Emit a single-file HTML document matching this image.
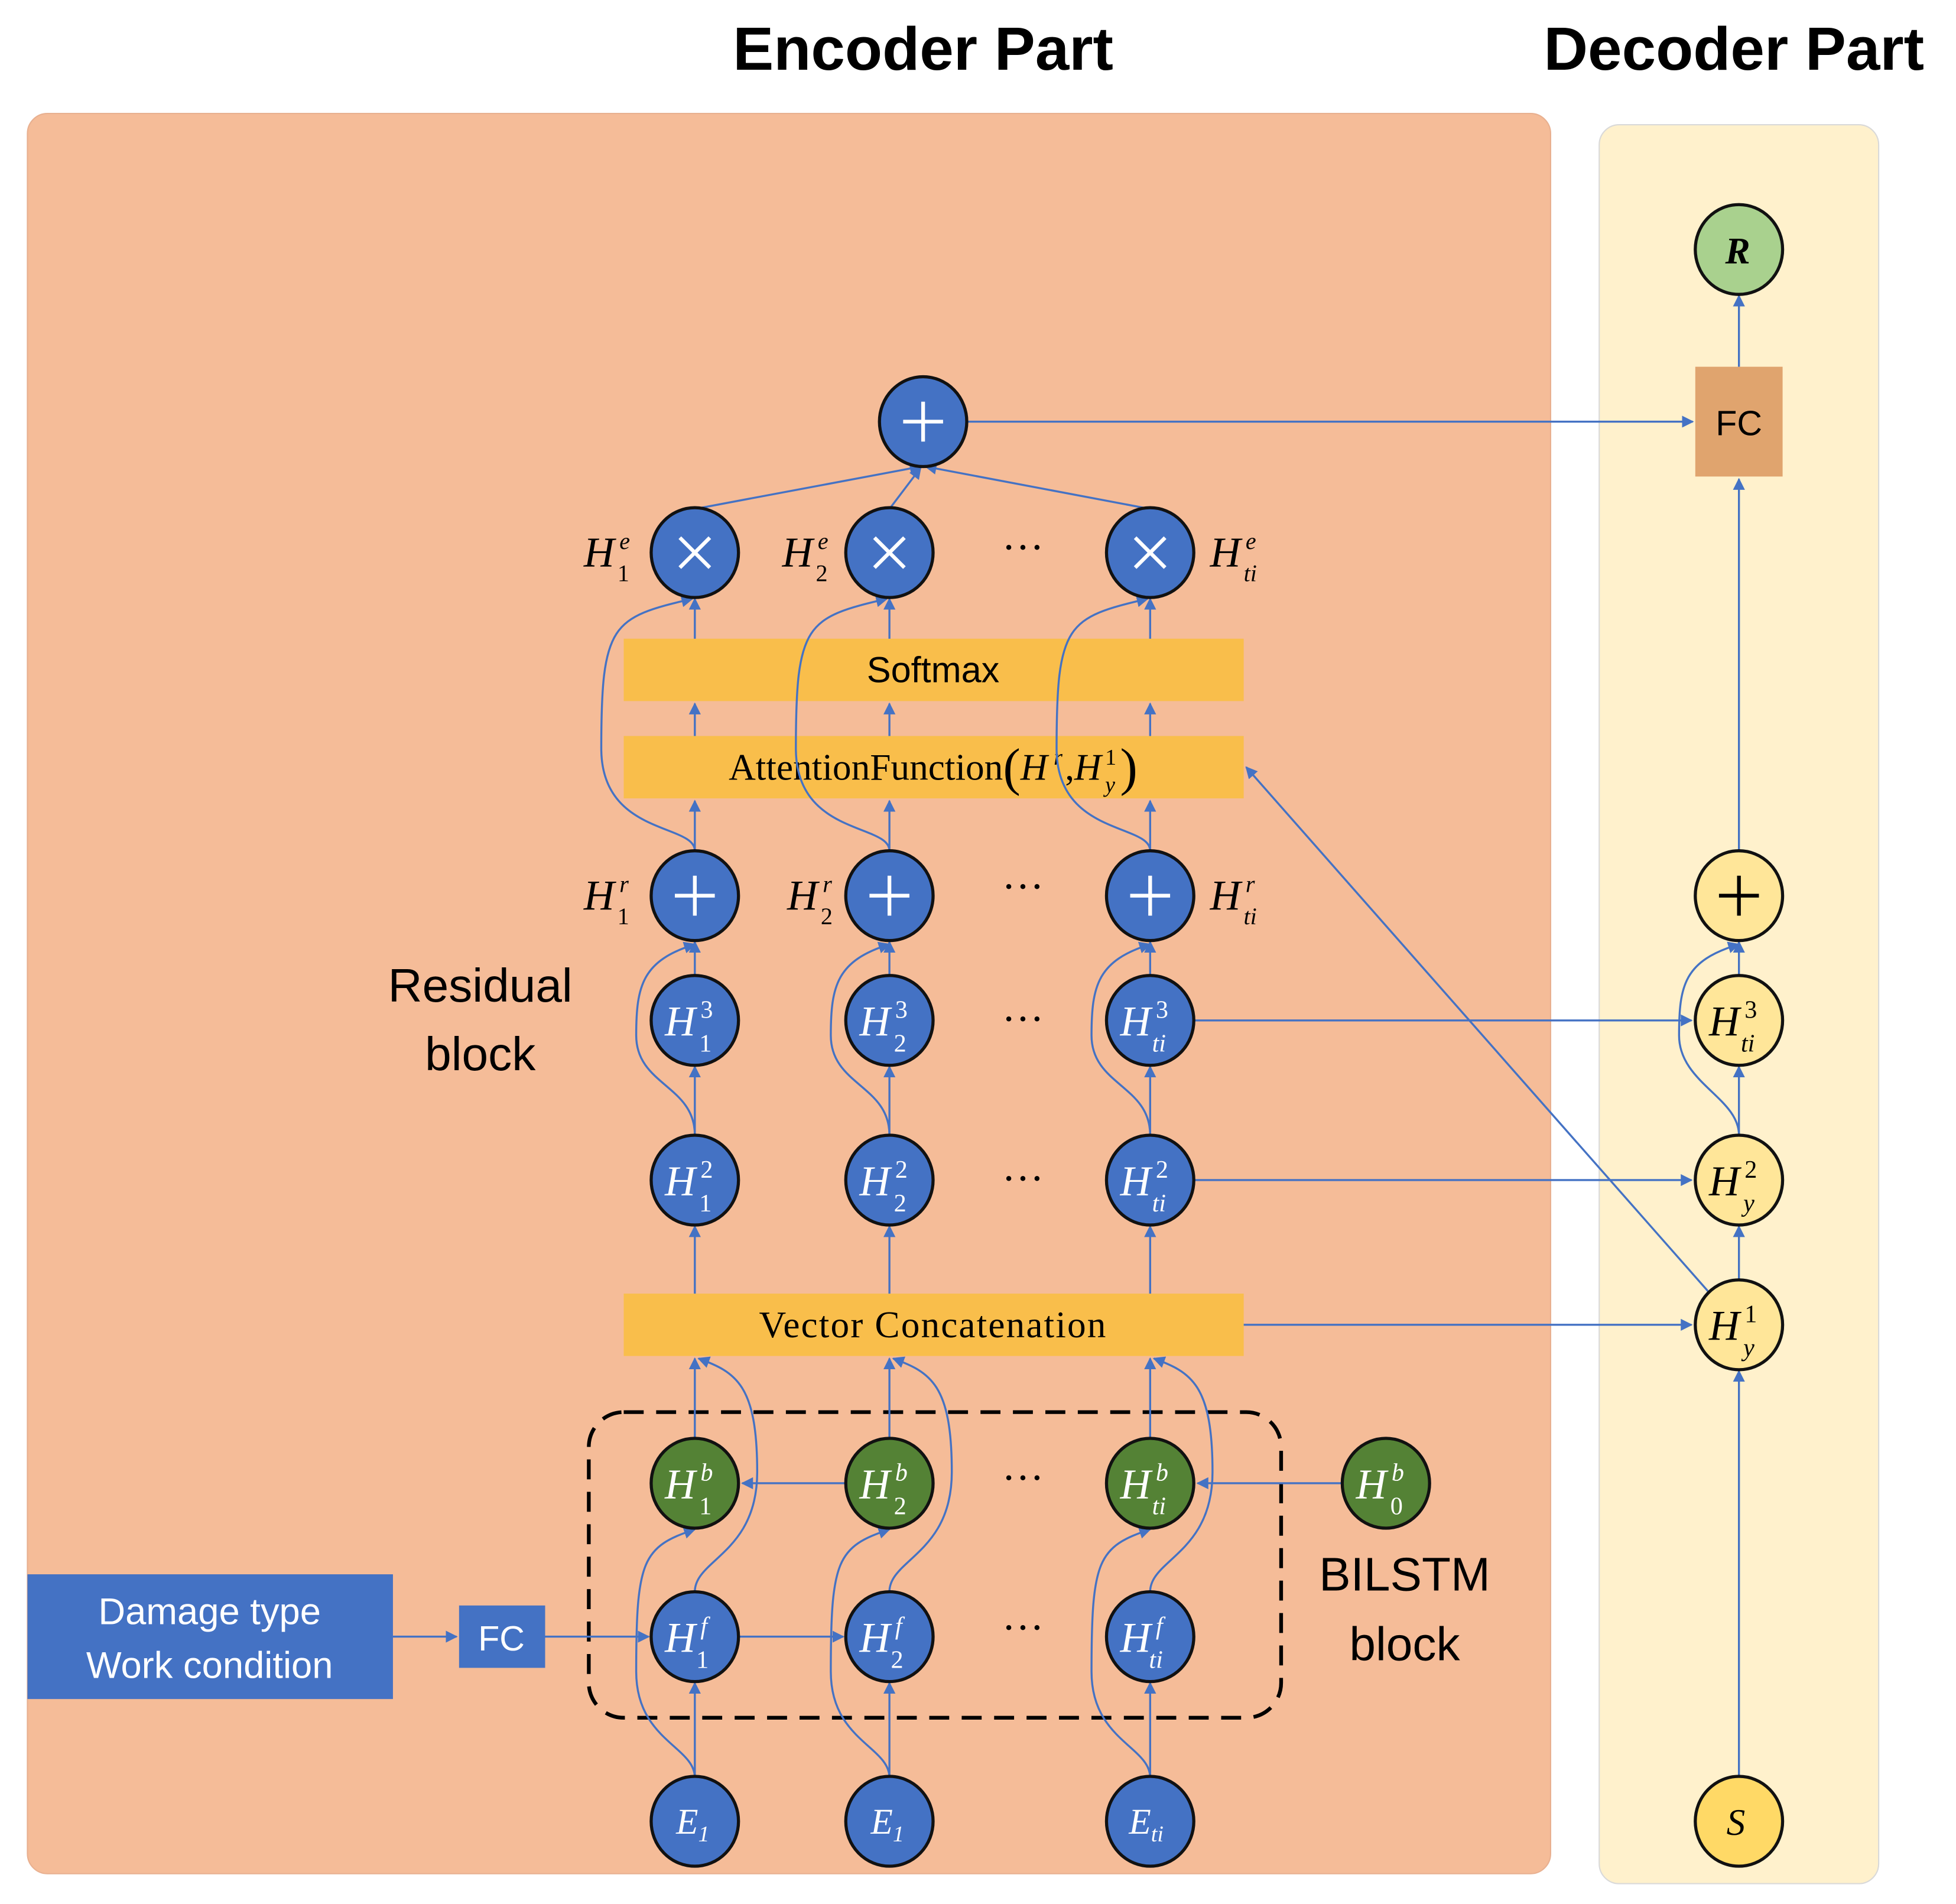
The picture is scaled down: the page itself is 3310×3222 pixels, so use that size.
<!DOCTYPE html>
<html><head><meta charset="utf-8"><style>html,body{margin:0;padding:0;background:#fff}svg{display:block}</style></head>
<body>
<svg width="3310" height="3222" viewBox="0 0 1568 1526.3" preserveAspectRatio="none" xmlns="http://www.w3.org/2000/svg">
<defs>
<marker id="a" viewBox="0 0 10 10" refX="9" refY="5" markerWidth="6" markerHeight="6" orient="auto-start-reverse"><path d="M0,0L10,5L0,10z" fill="#4472C4"/></marker>
</defs>
<rect width="1568" height="1527" fill="#fff"/>
<text x="740" y="56" text-anchor="middle" font-family="Liberation Sans, sans-serif" font-weight="bold" font-size="49">Encoder Part</text>
<text x="1390" y="56" text-anchor="middle" font-family="Liberation Sans, sans-serif" font-weight="bold" font-size="49">Decoder Part</text>
<rect x="22" y="91" width="1221" height="1411" rx="16" fill="#F5BC98" stroke="#e8b090"/>
<rect x="1282" y="100" width="224" height="1410" rx="16" fill="#FFF1CC" stroke="#d9d9d9"/>

<rect x="500" y="512" width="497" height="50" fill="#F9BE4B"/>
<rect x="500" y="590" width="497" height="50" fill="#F9BE4B"/>
<rect x="500" y="1037" width="497" height="50" fill="#F9BE4B"/>
<g font-family="Liberation Serif, serif" font-size="30" text-anchor="middle">
<text x="748" y="547" font-family="Liberation Sans, sans-serif" font-size="29">Softmax</text>
<text x="748" y="625">AttentionFunction<tspan font-size="42" dy="4">(</tspan><tspan font-style="italic" dy="-4">H</tspan><tspan font-size="18" dx="5" dy="-12" font-style="italic">r</tspan><tspan dx="2" dy="12">,</tspan><tspan font-style="italic">H</tspan><tspan font-size="18" dx="3" dy="-12">1</tspan><tspan font-size="18" dx="-9" dy="22" font-style="italic">y</tspan><tspan font-size="42" dx="4" dy="-6">)</tspan></text>
<text x="748" y="1072" letter-spacing="1">Vector Concatenation</text>
</g>

<rect x="472" y="1132" width="555" height="245" rx="28" fill="none" stroke="#000" stroke-width="3" stroke-dasharray="16,10"/>

<rect x="22" y="1262" width="293" height="100" fill="#4472C4"/>
<text x="168" y="1302" text-anchor="middle" fill="#fff" font-family="Liberation Sans, sans-serif" font-size="30">Damage type</text>
<text x="168" y="1345" text-anchor="middle" fill="#fff" font-family="Liberation Sans, sans-serif" font-size="30">Work condition</text>
<rect x="368" y="1287" width="69" height="50" fill="#4472C4"/>
<text x="402" y="1323" text-anchor="middle" fill="#fff" font-family="Liberation Sans, sans-serif" font-size="28">FC</text>
<rect x="1359" y="294" width="70" height="88" fill="#E0A46E"/>
<text x="1394" y="349" text-anchor="middle" font-family="Liberation Sans, sans-serif" font-size="28">FC</text>

<g font-family="Liberation Sans, sans-serif" font-size="38" text-anchor="middle">
<text x="385" y="803">Residual</text><text x="385" y="858">block</text>
<text x="1126" y="1275">BILSTM</text><text x="1126" y="1331">block</text>
</g>

<g stroke="#4472C4" stroke-width="1.6" fill="none" marker-end="url(#a)">
<line x1="315" y1="1312" x2="366" y2="1312"/>
<line x1="437" y1="1312" x2="520" y2="1312"/>
<line x1="593" y1="1312" x2="676" y2="1312"/>
<line x1="677" y1="1189" x2="595" y2="1189"/>
<line x1="1075" y1="1189" x2="960" y2="1189"/>
<line x1="775" y1="338" x2="1357" y2="338"/>
<line x1="958" y1="818" x2="1356" y2="818"/>
<line x1="958" y1="946" x2="1356" y2="946"/>
<line x1="997" y1="1062" x2="1356" y2="1062"/>
<line x1="1370" y1="1036" x2="999" y2="615"/>
<line x1="1394" y1="1425" x2="1394" y2="1099"/>
<line x1="1394" y1="1026" x2="1394" y2="983"/>
<line x1="1394" y1="910" x2="1394" y2="855"/>
<line x1="1394" y1="782" x2="1394" y2="755"/>
<line x1="1394" y1="682" x2="1394" y2="384"/>
<line x1="1394" y1="294" x2="1394" y2="237"/>
<path d="M1394,910 C1394,880 1346,868 1346,830 C1346,790 1350,770 1394,757"/>
<line x1="557" y1="408" x2="738" y2="374"/>
<line x1="713" y1="408" x2="738" y2="375"/>
<line x1="922" y1="408" x2="742" y2="374"/>
</g>
<g id="col" stroke="#4472C4" stroke-width="1.6" fill="none" marker-end="url(#a)">
<line x1="557" y1="1425" x2="557" y2="1349"/>
<path d="M557,1425 C557,1400 510,1395 510,1340 C510,1250 515,1240 557,1226"/>
<path d="M557,1276 C557,1250 607,1245 607,1180 C607,1110 590,1100 560,1089"/>
<line x1="557" y1="1153" x2="557" y2="1089"/>
<line x1="557" y1="1037" x2="557" y2="983"/>
<line x1="557" y1="910" x2="557" y2="855"/>
<line x1="557" y1="782" x2="557" y2="755"/>
<path d="M557,910 C557,870 510,870 510,830 C510,790 515,770 557,757"/>
<line x1="557" y1="682" x2="557" y2="642"/>
<line x1="557" y1="590" x2="557" y2="564"/>
<line x1="557" y1="512" x2="557" y2="480"/>
<path d="M557,682 C557,660 482,670 482,600 C482,500 490,495 555,480"/>
</g>
<use href="#col" x="156"/>
<use href="#col" x="365"/>

<g stroke="#111" stroke-width="2.5">
<g fill="#4472C4">
<ellipse cx="740" cy="338" rx="35" ry="36"/>
<ellipse cx="557" cy="443" rx="35" ry="36"/><ellipse cx="713" cy="443" rx="35" ry="36"/><ellipse cx="922" cy="443" rx="35" ry="36"/>
<ellipse cx="557" cy="718" rx="35" ry="36"/><ellipse cx="713" cy="718" rx="35" ry="36"/><ellipse cx="922" cy="718" rx="35" ry="36"/>
<ellipse cx="557" cy="818" rx="35" ry="36"/><ellipse cx="713" cy="818" rx="35" ry="36"/><ellipse cx="922" cy="818" rx="35" ry="36"/>
<ellipse cx="557" cy="946" rx="35" ry="36"/><ellipse cx="713" cy="946" rx="35" ry="36"/><ellipse cx="922" cy="946" rx="35" ry="36"/>
<ellipse cx="557" cy="1312" rx="35" ry="36"/><ellipse cx="713" cy="1312" rx="35" ry="36"/><ellipse cx="922" cy="1312" rx="35" ry="36"/>
<ellipse cx="557" cy="1460" rx="35" ry="36"/><ellipse cx="713" cy="1460" rx="35" ry="36"/><ellipse cx="922" cy="1460" rx="35" ry="36"/>
</g>
<g fill="#548235">
<ellipse cx="557" cy="1189" rx="35" ry="36"/><ellipse cx="713" cy="1189" rx="35" ry="36"/><ellipse cx="922" cy="1189" rx="35" ry="36"/><ellipse cx="1111" cy="1189" rx="35" ry="36"/>
</g>
<ellipse cx="1394" cy="200" rx="35" ry="36" fill="#A9D18E"/>
<g fill="#FFE699"><ellipse cx="1394" cy="718" rx="35" ry="36"/><ellipse cx="1394" cy="818" rx="35" ry="36"/><ellipse cx="1394" cy="946" rx="35" ry="36"/><ellipse cx="1394" cy="1062" rx="35" ry="36"/></g>
<ellipse cx="1394" cy="1460" rx="35" ry="36" fill="#FFD966"/>
</g>

<g stroke="#fff" stroke-width="3">
<path d="M740,322v32M724,338h32"/>
<path d="M557,702v32M541,718h32M713,702v32M697,718h32M922,702v32M906,718h32"/>
<path d="M545,431l24,24M569,431l-24,24M701,431l24,24M725,431l-24,24M910,431l24,24M934,431l-24,24"/>
</g>
<path d="M1394,702v32M1378,718h32" stroke="#000" stroke-width="3"/>

<g font-family="Liberation Serif, serif" font-style="italic" font-size="34" fill="#fff">
<text x="533" y="830">H<tspan font-size="20" font-style="normal" dx="4" dy="-14">3</tspan><tspan font-size="20" font-style="normal" dx="-11" dy="27">1</tspan></text>
<text x="689" y="830">H<tspan font-size="20" font-style="normal" dx="4" dy="-14">3</tspan><tspan font-size="20" font-style="normal" dx="-11" dy="27">2</tspan></text>
<text x="898" y="830">H<tspan font-size="20" font-style="normal" dx="4" dy="-14">3</tspan><tspan font-size="20" dx="-13" dy="27">ti</tspan></text>
<text x="533" y="958">H<tspan font-size="20" font-style="normal" dx="4" dy="-14">2</tspan><tspan font-size="20" font-style="normal" dx="-11" dy="27">1</tspan></text>
<text x="689" y="958">H<tspan font-size="20" font-style="normal" dx="4" dy="-14">2</tspan><tspan font-size="20" font-style="normal" dx="-11" dy="27">2</tspan></text>
<text x="898" y="958">H<tspan font-size="20" font-style="normal" dx="4" dy="-14">2</tspan><tspan font-size="20" dx="-13" dy="27">ti</tspan></text>
<text x="533" y="1201">H<tspan font-size="20" dx="4" dy="-14">b</tspan><tspan font-size="20" font-style="normal" dx="-11" dy="27">1</tspan></text>
<text x="689" y="1201">H<tspan font-size="20" dx="4" dy="-14">b</tspan><tspan font-size="20" font-style="normal" dx="-11" dy="27">2</tspan></text>
<text x="898" y="1201">H<tspan font-size="20" dx="4" dy="-14">b</tspan><tspan font-size="20" dx="-13" dy="27">ti</tspan></text>
<text x="1087" y="1201">H<tspan font-size="20" dx="4" dy="-14">b</tspan><tspan font-size="20" font-style="normal" dx="-11" dy="27">0</tspan></text>
<text x="533" y="1324">H<tspan font-size="20" dx="4" dy="-14">f</tspan><tspan font-size="20" font-style="normal" dx="-9" dy="27">1</tspan></text>
<text x="689" y="1324">H<tspan font-size="20" dx="4" dy="-14">f</tspan><tspan font-size="20" font-style="normal" dx="-9" dy="27">2</tspan></text>
<text x="898" y="1324">H<tspan font-size="20" dx="4" dy="-14">f</tspan><tspan font-size="20" dx="-11" dy="27">ti</tspan></text>
<text x="542" y="1470" font-size="29">E<tspan font-size="18" dy="6">1</tspan></text>
<text x="698" y="1470" font-size="29">E<tspan font-size="18" dy="6">1</tspan></text>
<text x="905" y="1470" font-size="29">E<tspan font-size="18" dy="6">ti</tspan></text>
</g>
<g font-family="Liberation Serif, serif" font-style="italic" font-size="34" fill="#000">
<text x="1370" y="830">H<tspan font-size="20" font-style="normal" dx="4" dy="-14">3</tspan><tspan font-size="20" dx="-13" dy="27">ti</tspan></text>
<text x="1370" y="958">H<tspan font-size="20" font-style="normal" dx="4" dy="-14">2</tspan><tspan font-size="20" dx="-11" dy="27">y</tspan></text>
<text x="1370" y="1074">H<tspan font-size="20" font-style="normal" dx="4" dy="-14">1</tspan><tspan font-size="20" dx="-11" dy="27">y</tspan></text>
<text x="1384" y="1471" font-size="30">S</text>
<text x="1383" y="211" font-size="30" font-weight="bold">R</text>
<text x="468" y="454">H<tspan font-size="19" dx="4" dy="-14">e</tspan><tspan font-size="19" font-style="normal" dx="-10" dy="26">1</tspan></text>
<text x="627" y="454">H<tspan font-size="19" dx="4" dy="-14">e</tspan><tspan font-size="19" font-style="normal" dx="-10" dy="26">2</tspan></text>
<text x="970" y="454">H<tspan font-size="19" dx="4" dy="-14">e</tspan><tspan font-size="19" dx="-10" dy="26">ti</tspan></text>
<text x="468" y="729">H<tspan font-size="19" dx="4" dy="-14">r</tspan><tspan font-size="19" font-style="normal" dx="-9" dy="26">1</tspan></text>
<text x="631" y="729">H<tspan font-size="19" dx="4" dy="-14">r</tspan><tspan font-size="19" font-style="normal" dx="-9" dy="26">2</tspan></text>
<text x="970" y="729">H<tspan font-size="19" dx="4" dy="-14">r</tspan><tspan font-size="19" dx="-9" dy="26">ti</tspan></text>
</g>
<g font-family="Liberation Serif, serif" font-size="34" text-anchor="middle">
<text x="820" y="450">···</text><text x="820" y="722">···</text><text x="820" y="828">···</text>
<text x="820" y="956">···</text><text x="820" y="1196">···</text><text x="820" y="1316">···</text>
</g>
</svg>
</body></html>
